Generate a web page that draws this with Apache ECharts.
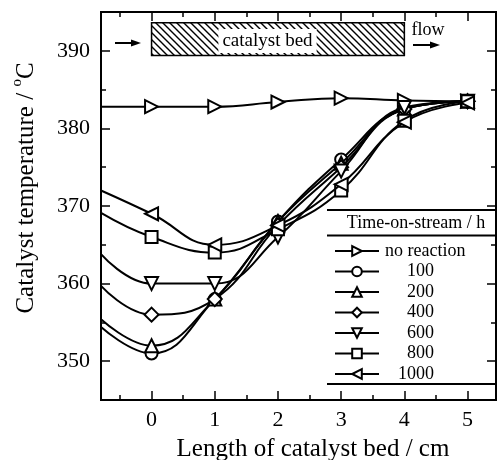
<!DOCTYPE html>
<html>
<head>
<meta charset="utf-8">
<script src="https://cdn.jsdelivr.net/npm/echarts@6/dist/echarts.min.js"></script>
<style>
html,body{margin:0;padding:0;background:#fff;}
#chart{width:498px;height:460px;}
</style>
</head>
<body>
<div id="chart"></div>
<script>
// ---- data ----
const xPos = [-0.8, 0, 1, 2, 3, 4, 5];
const seriesNames = ['no reaction', '100', '200', '400', '600', '800', '1000'];
const noReaction = [382.8, 382.8, 382.8, 383.4, 383.9, 383.6, 383.5];
const h100  = [354.4, 351.0, 358.0, 368.0, 376.0, 382.5, 383.5];
const h200  = [355.4, 352.0, 358.0, 368.0, 375.5, 382.5, 383.5];
const h400  = [359.7, 356.0, 358.0, 367.5, 375.0, 382.5, 383.5];
const h600  = [363.8, 360.0, 360.0, 366.0, 374.5, 382.7, 383.5];
const h800  = [369.1, 366.0, 364.0, 367.0, 372.0, 381.0, 383.5];
const h1000 = [372.0, 369.0, 365.0, 367.5, 372.8, 380.8, 383.3];
const xTickLabels = [0, 1, 2, 3, 4, 5];
const xMinorTicks = [-0.5, 0.5, 1.5, 2.5, 3.5, 4.5];
const yTickLabels = [350, 360, 370, 380, 390];
const yMinorTicks = [345, 355, 365, 375, 385, 395];
const bedRange = [[0, 393.6], [4, 389.4]];

const FONT = 'Liberation Serif';
const chart = echarts.init(document.getElementById('chart'), null, {renderer: 'canvas'});

// hatch pattern
const pc = document.createElement('canvas');
pc.width = 7; pc.height = 7;
const g = pc.getContext('2d');
g.fillStyle = '#fff'; g.fillRect(0, 0, 7, 7);
g.strokeStyle = '#000'; g.lineWidth = 1.4;
g.beginPath();
g.moveTo(-1, -1); g.lineTo(8, 8);
g.moveTo(-1, 6); g.lineTo(1, 8);
g.moveTo(6, -1); g.lineTo(8, 1);
g.stroke();

const symbols = [
  ['emptyTriangle', -90, 13],
  ['emptyCircle', 0, 12],
  ['emptyTriangle', 0, 13],
  ['emptyDiamond', 0, 14],
  ['emptyTriangle', 180, 13],
  ['emptyRect', 0, 12],
  ['emptyTriangle', 90, 13]
];
const allData = [noReaction, h100, h200, h400, h600, h800, h1000];

const series = allData.map((arr, k) => {
  const s = {
    name: seriesNames[k],
    type: 'line',
    smooth: 0.45,
    symbol: symbols[k][0],
    symbolRotate: symbols[k][1],
    symbolSize: symbols[k][2],
    xAxisIndex: 0, yAxisIndex: 0,
    lineStyle: {color: '#000', width: 2},
    itemStyle: {color: '#000', borderWidth: 1.5},
    z: 3 + k,
    data: xPos.map((x, i) => i === 0 ? {value: [x, arr[i]], symbol: 'none'} : [x, arr[i]])
  };
  if (k === 0) {
    s.markArea = {
      silent: true,
      itemStyle: {color: {image: pc, repeat: 'repeat'}, borderColor: '#000', borderWidth: 1.5},
      data: [[{coord: bedRange[0]}, {coord: bedRange[1]}]]
    };
  }
  return s;
});

const xmin = -0.8, xmax = 5.45, ymin = 345, ymax = 395;
function xa(pos, vals, len, labels) {
  return {
    type: 'value', min: xmin, max: xmax, position: pos,
    axisLine: {show: true, onZero: false, lineStyle: {color: '#000', width: 2}},
    axisTick: {show: true, inside: true, length: len, customValues: vals, lineStyle: {color: '#000', width: 1.5}},
    axisLabel: labels ? {show: true, customValues: vals, color: '#000', fontFamily: FONT, fontSize: 22, margin: 9} : {show: false},
    splitLine: {show: false}
  };
}
function ya(pos, vals, len, labels) {
  return {
    type: 'value', min: ymin, max: ymax, position: pos,
    axisLine: {show: true, onZero: false, lineStyle: {color: '#000', width: 2}},
    axisTick: {show: true, inside: true, length: len, customValues: vals, lineStyle: {color: '#000', width: 1.5}},
    axisLabel: labels ? {show: true, customValues: vals, color: '#000', fontFamily: FONT, fontSize: 22, margin: 11} : {show: false},
    splitLine: {show: false}
  };
}

const option = {
  animation: false,
  backgroundColor: '#fff',
  grid: {left: 101, right: 2, top: 12, bottom: 60, containLabel: false},
  xAxis: [xa('bottom', xTickLabels, 9, true), xa('bottom', xMinorTicks, 5, false),
          xa('top', xTickLabels, 9, false), xa('top', xMinorTicks, 5, false)],
  yAxis: [ya('left', yTickLabels, 9, true), ya('left', yMinorTicks, 5, false),
          ya('right', yTickLabels, 9, false), ya('right', yMinorTicks, 5, false)],
  legend: {
    data: seriesNames,
    orient: 'vertical',
    left: 329, top: 237,
    itemWidth: 44, itemHeight: 12, itemGap: 2.5,
    selectedMode: false,
    textStyle: {color: '#000', fontFamily: FONT, fontSize: 18, lineHeight: 17,
      rich: {
        a: {fontFamily: FONT, fontSize: 18, color: '#000', lineHeight: 17, padding: [0, 0, 0, 1]},
        b: {fontFamily: FONT, fontSize: 18, color: '#000', lineHeight: 17, width: 50, align: 'right'}
      }},
    formatter: n => n === 'no reaction' ? '{a|' + n + '}' : '{b|' + n + '}'
  },
  graphic: [
    {type: 'text', z: 100, x: 26, y: 188, rotation: Math.PI / 2,
     style: {text: 'Catalyst temperature / {sup|o}C', fill: '#000', font: '25px ' + FONT, align: 'center', verticalAlign: 'middle',
       rich: {sup: {fontSize: 15, fontFamily: FONT, fill: '#000', verticalAlign: 'top', lineHeight: 32}}}},
    {type: 'text', z: 100, x: 313, y: 449,
     style: {text: 'Length of catalyst bed / cm', fill: '#000', font: '25px ' + FONT, align: 'center', verticalAlign: 'middle'}},
    {type: 'text', z: 100, x: 267.5, y: 41,
     style: {text: 'catalyst bed', fill: '#000', font: '19px ' + FONT, align: 'center', verticalAlign: 'middle',
       backgroundColor: '#fff', padding: [3, 4, 2, 4]}},
    {type: 'text', z: 100, x: 428, y: 30,
     style: {text: 'flow', fill: '#000', font: '18px ' + FONT, align: 'center', verticalAlign: 'middle'}},
    {type: 'line', z: 100, shape: {x1: 115, y1: 43, x2: 134, y2: 43}, style: {stroke: '#000', lineWidth: 2}},
    {type: 'polygon', z: 100, shape: {points: [[131, 39.5], [141, 43], [131, 46.5]]}, style: {fill: '#000'}},
    {type: 'line', z: 100, shape: {x1: 413, y1: 45, x2: 432, y2: 45}, style: {stroke: '#000', lineWidth: 2}},
    {type: 'polygon', z: 100, shape: {points: [[430, 41.5], [440, 45], [430, 48.5]]}, style: {fill: '#000'}},
    {type: 'line', z: 100, shape: {x1: 327, y1: 210, x2: 496, y2: 210}, style: {stroke: '#000', lineWidth: 2}},
    {type: 'line', z: 100, shape: {x1: 327, y1: 235.5, x2: 496, y2: 235.5}, style: {stroke: '#000', lineWidth: 2}},
    {type: 'line', z: 100, shape: {x1: 327, y1: 384, x2: 496, y2: 384}, style: {stroke: '#000', lineWidth: 2}},
    {type: 'text', z: 100, x: 416, y: 223,
     style: {text: 'Time-on-stream / h', fill: '#000', font: '18px ' + FONT, align: 'center', verticalAlign: 'middle'}}
  ],
  series: series
};
chart.setOption(option);
</script>
</body>
</html>
